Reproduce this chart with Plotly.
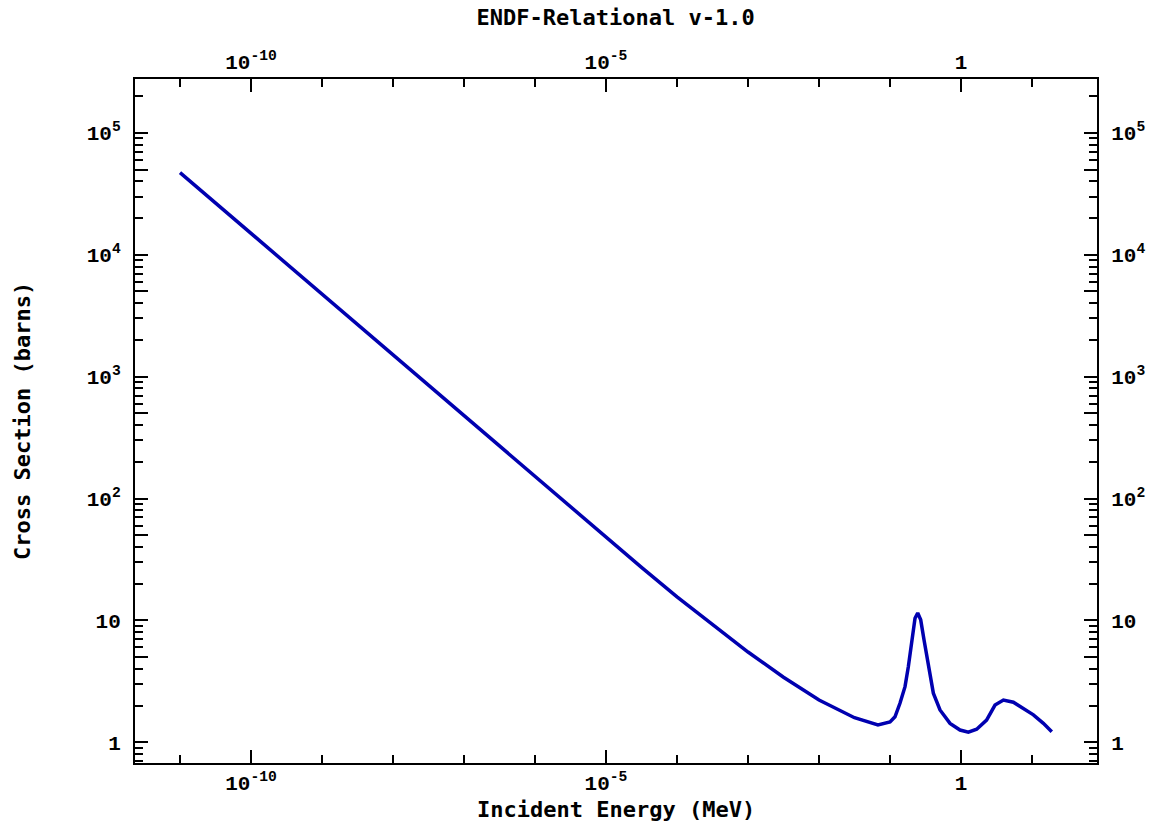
import plotly.graph_objects as go

# ---- data ----
energy_mev = [1e-11, 1e-10, 1e-9, 1e-8, 1e-7, 1e-6, 1e-5, 3.16e-5, 1e-4, 3.16e-4, 1e-3,
              3.16e-3, 1e-2, 3.16e-2, 0.0676, 0.1, 0.1175, 0.138, 0.1626, 0.181,
              0.2018, 0.2249, 0.2455, 0.2704, 0.3013, 0.3467, 0.4074, 0.5058,
              0.6998, 0.968, 1.268, 1.66, 2.29, 3.01, 3.95, 5.46, 7.55, 10.45,
              14.45, 18.97]
cross_section_b = [4.72e4, 1.5e4, 4.73e3, 1.5e3, 4.75e2, 150, 48, 27.2, 15.6, 9.2, 5.5,
                   3.42, 2.22, 1.59, 1.39, 1.47, 1.62, 2.09, 2.86, 4.17,
                   6.9, 10.4, 11.5, 10.1, 6.9, 4.17, 2.53, 1.84,
                   1.43, 1.26, 1.21, 1.28, 1.52, 2.02, 2.22, 2.13, 1.90, 1.68,
                   1.43, 1.22]

x_major_vals = [1e-10, 1e-5, 1]
x_major_text = ["10<sup>-10</sup>", "10<sup>-5</sup>", "1"]
x_minor_vals = [1e-11, 1e-9, 1e-8, 1e-7, 1e-6, 1e-4, 1e-3, 1e-2, 1e-1, 10]

y_major_vals = [1, 10, 100, 1000, 1e4, 1e5]
y_major_text = ["1", "10", "10<sup>2</sup>", "10<sup>3</sup>", "10<sup>4</sup>",
                "10<sup>5</sup>"]
y_half_vals = [5, 50, 500, 5000, 5e4]
y_minor_vals = [m * 10 ** e for e in range(-1, 6) for m in (2, 3, 4, 6, 7, 8, 9)]

title_text = "ENDF-Relational v-1.0"
x_title = "Incident Energy (MeV)"
y_title = "Cross Section (barns)"

X_RANGE = [-11.634, 1.915]
Y_RANGE = [-0.170, 5.442]

tick_font = dict(family="Liberation Mono", size=21, color="black", weight="bold")
title_font = dict(family="DejaVu Sans Mono", size=22, color="black", weight="bold")
axis_title_font = dict(family="DejaVu Sans Mono", size=22, color="black", weight="bold")

fig = go.Figure()
fig.add_trace(go.Scatter(x=energy_mev, y=cross_section_b, mode="lines",
                         line=dict(color="#0000b0", width=3.5),
                         showlegend=False, hoverinfo="skip"))
for xa, ya in (("x2", "y2"), ("x", "y3"), ("x", "y4")):
    fig.add_trace(go.Scatter(x=energy_mev, y=cross_section_b, mode="lines",
                             xaxis=xa, yaxis=ya, opacity=0,
                             showlegend=False, hoverinfo="skip"))

tick_style = dict(ticks="inside", tickwidth=2, tickcolor="black")

common_x = dict(type="log", range=X_RANGE, tickmode="array",
                tickvals=x_major_vals, ticktext=x_major_text, ticklen=13,
                minor=dict(tickvals=x_minor_vals, ticklen=8, showgrid=False, **tick_style),
                showline=True, linecolor="black", linewidth=2, mirror=False,
                showgrid=False, zeroline=False, tickfont=tick_font, automargin=False,
                ticklabelstandoff=0, **tick_style)
common_y = dict(type="log", range=Y_RANGE, tickmode="array",
                tickvals=y_major_vals, ticktext=y_major_text, ticklen=13,
                minor=dict(tickvals=y_minor_vals, ticklen=8, showgrid=False, **tick_style),
                showline=True, linecolor="black", linewidth=2, mirror=False,
                showgrid=False, zeroline=False, tickfont=tick_font, automargin=False,
                ticklabelstandoff=8, **tick_style)
half_y = dict(type="log", range=Y_RANGE, tickmode="array", tickvals=y_half_vals,
              ticklen=13, showticklabels=False, showline=False, showgrid=False,
              zeroline=False, overlaying="y", anchor="x", automargin=False, **tick_style)

fig.update_layout(
    width=1153, height=821,
    margin=dict(l=135, r=56, t=79, b=58, autoexpand=False),
    paper_bgcolor="white", plot_bgcolor="white",
    xaxis=dict(side="bottom", **common_x),
    xaxis2=dict(side="top", overlaying="x", anchor="y", **common_x),
    yaxis=dict(side="left", **common_y),
    yaxis2=dict(side="right", overlaying="y", anchor="x", **common_y),
    yaxis3=dict(side="left", **half_y),
    yaxis4=dict(side="right", **half_y),
    title=dict(text=title_text, x=0.534, xanchor="center", y=1 - 17 / 821,
               yanchor="middle", font=title_font),
    annotations=[
        dict(text=x_title, xref="paper", yref="paper", x=0.5, y=-0.0680,
             xanchor="center", yanchor="middle", showarrow=False, font=axis_title_font),
        dict(text=y_title, xref="paper", yref="paper", x=-0.1175, y=0.5,
             xanchor="center", yanchor="middle", textangle=-90,
             showarrow=False, font=axis_title_font),
    ],
)

fig.write_html("out.html")
